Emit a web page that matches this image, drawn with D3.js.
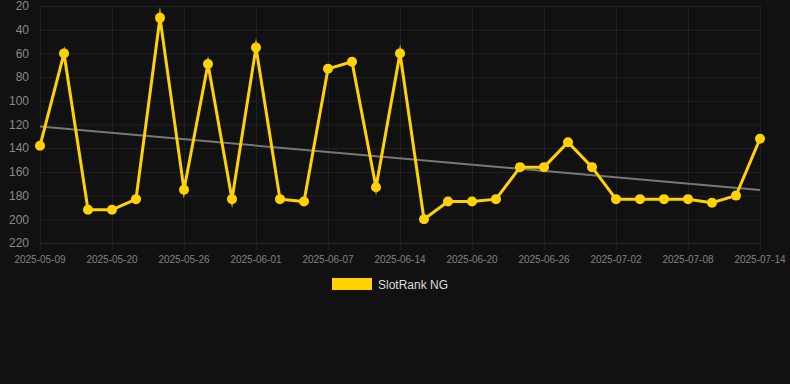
<!DOCTYPE html>
<html>
<head>
<meta charset="utf-8">
<script src="https://cdn.jsdelivr.net/npm/d3@7"></script>
<style>
  body { margin: 0; background: #111111; }
  svg { display: block; }
</style>
</head>
<body>
<div id="chart"></div>
<script>
var dates = ["2025-05-09","2025-05-13","2025-05-16","2025-05-20","2025-05-22","2025-05-24",
             "2025-05-26","2025-05-28","2025-05-30","2025-06-01","2025-06-03","2025-06-05",
             "2025-06-07","2025-06-09","2025-06-12","2025-06-14","2025-06-16","2025-06-18",
             "2025-06-20","2025-06-22","2025-06-24","2025-06-26","2025-06-28","2025-06-30",
             "2025-07-02","2025-07-04","2025-07-06","2025-07-08","2025-07-10","2025-07-12",
             "2025-07-14"];
var ranks = [138, 60, 192, 192, 183, 30, 175, 69, 183, 55, 183, 185, 73, 67, 173, 60,
             200, 185, 185, 183, 156, 156, 135, 156, 183, 183, 183, 183, 186, 180, 132];
var yTicks = [20, 40, 60, 80, 100, 120, 140, 160, 180, 200, 220];
var seriesName = "SlotRank NG";

var width = 790, height = 384;
var plotLeft = 40, plotRight = 760, plotTop = 6, plotBottom = 243;

var svg = d3.select("#chart").append("svg")
	.attr("width", width)
	.attr("height", height);

var x = d3.scalePoint()
	.domain(dates)
	.range([plotLeft, plotRight]);

var y = d3.scaleLinear()
	.domain([20, 220])
	.range([plotTop, plotBottom]);

var labelled = dates.filter(function(d, i){ return i % 3 === 0; });

// grid
svg.append("g")
	.selectAll("line")
	.data(yTicks)
	.enter()
	.append("line")
	.attr("x1", plotLeft)
	.attr("x2", plotRight)
	.attr("y1", function(d){ return y(d) + 0.5; })
	.attr("y2", function(d){ return y(d) + 0.5; })
	.attr("stroke", function(d){ return d === 220 ? "#2a2a2a" : "#222222"; })
	.attr("stroke-width", 1);

svg.append("g")
	.selectAll("line")
	.data(labelled)
	.enter()
	.append("line")
	.attr("x1", function(d){ return x(d) + 0.5; })
	.attr("x2", function(d){ return x(d) + 0.5; })
	.attr("y1", plotTop)
	.attr("y2", plotBottom + 7)
	.attr("stroke", "#202020")
	.attr("stroke-width", 1);

// y axis labels
svg.append("g")
	.selectAll("text")
	.data(yTicks)
	.enter()
	.append("text")
	.attr("x", 29)
	.attr("y", function(d){ return y(d); })
	.attr("dy", "0.35em")
	.attr("text-anchor", "end")
	.attr("font-family", "Liberation Sans, Arial, sans-serif")
	.attr("font-size", 12)
	.attr("fill", "#8a8a8a")
	.text(function(d){ return d; });

// x axis labels
svg.append("g")
	.selectAll("text")
	.data(labelled)
	.enter()
	.append("text")
	.attr("x", function(d){ return x(d); })
	.attr("y", 263)
	.attr("text-anchor", "middle")
	.attr("font-family", "Liberation Sans, Arial, sans-serif")
	.attr("font-size", 10)
	.attr("fill", "#808080")
	.text(function(d){ return d; });

// trend line (least squares over the series)
var n = ranks.length;
var mx = d3.mean(d3.range(n)), my = d3.mean(ranks);
var sxy = 0, sxx = 0;
ranks.forEach(function(v, i){
	sxy += (i - mx) * (v - my);
	sxx += (i - mx) * (i - mx);
});
var slope = sxy / sxx, icpt = my - slope * mx;

svg.append("line")
	.attr("x1", x(dates[0]))
	.attr("x2", x(dates[n - 1]))
	.attr("y1", y(icpt))
	.attr("y2", y(icpt + slope * (n - 1)))
	.attr("stroke", "#777777")
	.attr("stroke-width", 2);

// series line
var line = d3.line()
	.x(function(d, i){ return x(dates[i]); })
	.y(function(d){ return y(d); });

svg.append("path")
	.datum(ranks)
	.attr("d", line)
	.attr("fill", "none")
	.attr("stroke", "#ffd200")
	.attr("stroke-width", 3)
	.attr("stroke-linejoin", "miter")
	.attr("stroke-miterlimit", 10);

svg.append("g")
	.selectAll("circle")
	.data(ranks)
	.enter()
	.append("circle")
	.attr("cx", function(d, i){ return x(dates[i]); })
	.attr("cy", function(d){ return y(d); })
	.attr("r", 5)
	.attr("fill", "#ffd200");

// legend
svg.append("rect")
	.attr("x", 332)
	.attr("y", 278)
	.attr("width", 40)
	.attr("height", 12)
	.attr("fill", "#ffd200");

svg.append("text")
	.attr("x", 378)
	.attr("y", 289)
	.attr("font-family", "Liberation Sans, Arial, sans-serif")
	.attr("font-size", 12)
	.attr("fill", "#dddddd")
	.text(seriesName);
</script>
</body>
</html>
